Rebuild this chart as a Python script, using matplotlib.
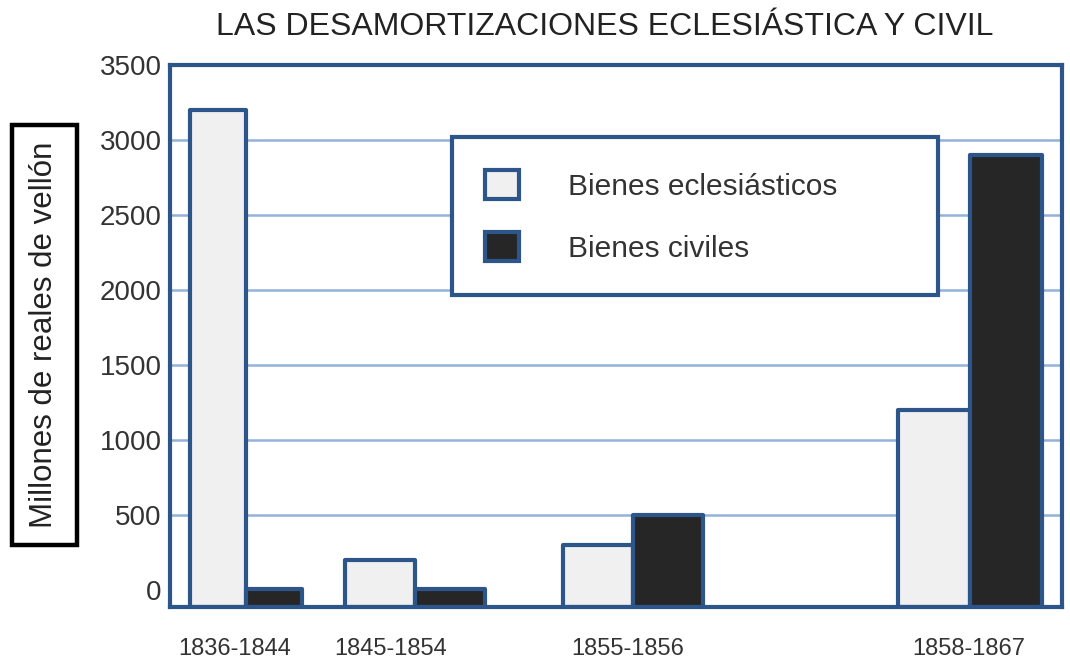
import matplotlib
matplotlib.use("Agg")
import matplotlib.pyplot as plt
from matplotlib.patches import Patch

# datos (millones de reales de vellón)
periodos = ["1836-1844", "1845-1854", "1855-1856", "1858-1867"]
eclesiasticos = [3200, 200, 300, 1200]
civiles = [10, 10, 500, 2900]
yticks = [0, 500, 1000, 1500, 2000, 2500, 3000, 3500]

# colores
azul = "#2c5689"
rejilla = "#93b3da"
claro = "#f0f0f0"
oscuro = "#262626"
fuente = ["Liberation Sans", "DejaVu Sans"]

# posiciones de los grupos (separacion irregular como en el original)
grupos = [2.46, 4.15, 6.33, 9.70]
anchos = [0.56, 0.70, 0.70, 0.72]
pos_etiquetas = [2.35, 3.91, 6.28, 9.69]
ymin = -113

fig = plt.figure(figsize=(10.70, 6.62), dpi=100)
ax = fig.add_axes([0.159, 0.083, 0.8335, 0.819])
ax.set_xlim(1.70, 10.62)
ax.set_ylim(ymin, 3500)

for y in yticks[1:-1]:
    ax.axhline(y, color=rejilla, lw=1.8, zorder=1)

x_ecl = [g - w / 2 for g, w in zip(grupos, anchos)]
x_civ = [g + w / 2 for g, w in zip(grupos, anchos)]
ax.bar(x_ecl, [v - ymin for v in eclesiasticos], anchos, bottom=ymin,
       color=claro, edgecolor=azul, linewidth=3, zorder=3, joinstyle="round")
ax.bar(x_civ, [v - ymin for v in civiles], anchos, bottom=ymin,
       color=oscuro, edgecolor=azul, linewidth=3, zorder=4, joinstyle="round")

for s in ax.spines.values():
    s.set_color(azul)
    s.set_linewidth(3)
    s.set_zorder(5)

ax.set_yticks(yticks)
ax.set_yticklabels([str(v) for v in yticks], family=fuente, fontsize=20, color="#333333")
ax.set_xticks(pos_etiquetas)
ax.set_xticklabels(periodos, family=fuente, fontsize=17, color="#333333")
ax.tick_params(axis="y", length=0, pad=6)
ax.tick_params(axis="x", length=0, pad=22)

ax.set_ylabel("Millones de reales de vellón", fontsize=22.5, family=fuente,
              color="#222222",
              bbox=dict(boxstyle="square,pad=0.55", facecolor="white",
                        edgecolor="black", linewidth=3.2))
ax.yaxis.label.set_va("center")
ax.yaxis.set_label_coords(-0.141, 0.502)

fig.text(0.565, 0.959, "LAS DESAMORTIZACIONES ECLESIÁSTICA Y CIVIL",
         ha="center", va="center", family=fuente, fontsize=23, color="#222222")

handles = [Patch(facecolor=claro, edgecolor=azul, linewidth=3),
           Patch(facecolor=oscuro, edgecolor=azul, linewidth=3)]
leg = ax.legend(handles, ["Bienes eclesiásticos", "Bienes civiles"],
                loc="upper left", bbox_to_anchor=(0.316, 0.867, 0.545, 0.0),
                mode="expand", fancybox=False, framealpha=1,
                prop={"family": fuente, "size": 21.5},
                handlelength=1.14, handleheight=1.14, handletextpad=1.64,
                borderpad=1.1, labelspacing=1.04, borderaxespad=0)
leg.get_frame().set_edgecolor(azul)
leg.get_frame().set_linewidth(3)
leg.set_zorder(6)
for t in leg.get_texts():
    t.set_color("#333333")

fig.savefig("out.png", dpi=100)
